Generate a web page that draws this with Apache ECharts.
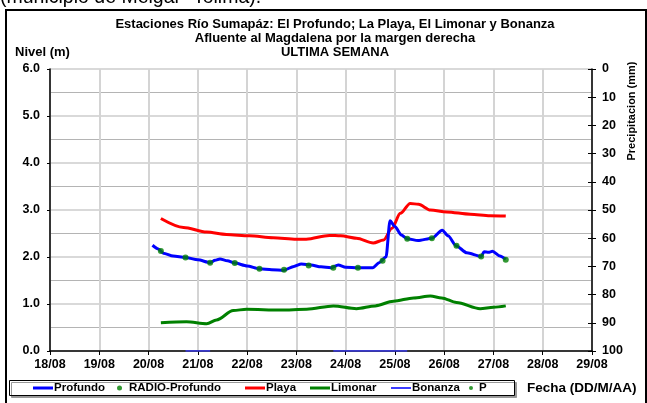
<!DOCTYPE html>
<html>
<head>
<meta charset="utf-8">
<script src="https://cdn.jsdelivr.net/npm/echarts@6/dist/echarts.min.js"></script>
<style>
  html, body { margin: 0; padding: 0; background: #fff; }
  #chart { width: 647px; height: 403px; }
</style>
</head>
<body>
<div id="chart"></div>
<script>
// datos: x = dia de agosto (fraccion = hora), y = nivel (m)
var dias = [18, 19, 20, 21, 22, 23, 24, 25, 26, 27, 28, 29];
var nivelTicks = [0, 1, 2, 3, 4, 5, 6];
var precipTicks = [0, 10, 20, 30, 40, 50, 60, 70, 80, 90, 100];

var profundo = [[20.08, 2.25], [20.2, 2.17], [20.3, 2.08], [20.5, 2.02], [20.75, 1.99], [21.0, 1.94],
  [21.25, 1.88], [21.35, 1.93], [21.45, 1.96], [21.6, 1.92], [21.75, 1.87], [22.0, 1.81],
  [22.25, 1.75], [22.5, 1.73], [22.75, 1.72], [22.95, 1.80], [23.1, 1.85], [23.3, 1.83],
  [23.5, 1.79], [23.7, 1.77], [23.85, 1.83], [24.0, 1.78], [24.25, 1.77], [24.55, 1.77],
  [24.68, 1.88], [24.82, 2.0], [24.9, 2.77], [25.0, 2.65], [25.13, 2.47], [25.25, 2.39],
  [25.47, 2.35], [25.75, 2.40], [25.96, 2.57], [26.08, 2.45], [26.24, 2.24], [26.46, 2.09],
  [26.75, 2.01], [26.81, 2.11], [26.9, 2.10], [26.98, 2.12], [27.13, 2.02], [27.25, 1.95]];
var radioProfundo = [[20.25, 2.13], [20.75, 1.99], [21.25, 1.88], [21.75, 1.87], [22.25, 1.75],
  [22.75, 1.73], [23.25, 1.82], [23.75, 1.77], [24.25, 1.77], [24.75, 1.92], [25.25, 2.39],
  [25.75, 2.40], [26.25, 2.24], [26.75, 2.01], [27.25, 1.94]];
var playa = [[20.25, 2.82], [20.71, 2.63], [21.18, 2.53], [21.58, 2.48], [22.05, 2.45], [22.53, 2.41],
  [23.0, 2.38], [23.2, 2.38], [23.67, 2.46], [23.9, 2.45], [24.22, 2.40], [24.56, 2.30],
  [24.77, 2.36], [24.94, 2.61], [25.11, 2.93], [25.31, 3.14], [25.48, 3.12], [25.72, 3.00],
  [26.05, 2.96], [26.53, 2.91], [26.93, 2.88], [27.25, 2.87]];
var limonar = [[20.25, 0.60], [20.77, 0.62], [21.18, 0.58], [21.38, 0.66], [21.72, 0.86], [21.99, 0.89],
  [22.67, 0.87], [23.21, 0.89], [23.75, 0.96], [24.22, 0.90], [24.6, 0.96], [24.97, 1.06],
  [25.38, 1.13], [25.72, 1.17], [25.95, 1.13], [26.25, 1.03], [26.73, 0.90], [27.0, 0.93], [27.25, 0.96]];
var bonanza = [[20.75, 0], [21.25, 0], [22, '-'], [23.75, 0], [25.25, 0]];
var precipitacion = [];

var FONT = 'Liberation Sans, Arial, sans-serif';
var chart = echarts.init(document.getElementById('chart'));

function legendItem(name, left, icon, w, h, pad) {
  return {
    data: [{ name: name, icon: icon }],
    left: left, top: 382, padding: 0,
    itemWidth: w, itemHeight: h, itemGap: 0,
    selectedMode: false,
    textStyle: { fontFamily: FONT, fontSize: 11.5, fontWeight: 'bold', color: '#000', padding: [0, 0, 0, pad] }
  };
}

chart.setOption({
  animation: false,
  textStyle: { fontFamily: FONT },
  graphic: [
    { type: 'text', left: 0, top: -12, style: { text: '(municipio de Melgar- Tolima).', font: '19.5px ' + FONT, fill: '#000' } },
    { type: 'rect', z: 0, shape: { x: 6, y: 10, width: 640, height: 400 }, style: { fill: '#fff', stroke: '#000', lineWidth: 2 } },
    { type: 'text', z: 10, x: 335, y: 24, style: { text: 'Estaciones Río Sumapáz: El Profundo; La Playa, El Limonar y Bonanza', font: 'bold 13px ' + FONT, fill: '#000', textAlign: 'center', textVerticalAlign: 'middle' } },
    { type: 'text', z: 10, x: 335, y: 38, style: { text: 'Afluente al Magdalena por la margen derecha', font: 'bold 13px ' + FONT, fill: '#000', textAlign: 'center', textVerticalAlign: 'middle' } },
    { type: 'text', z: 10, x: 335, y: 52, style: { text: 'ULTIMA SEMANA', font: 'bold 13px ' + FONT, fill: '#000', textAlign: 'center', textVerticalAlign: 'middle' } },
    { type: 'text', z: 10, x: 15, y: 52, style: { text: 'Nivel (m)', font: 'bold 13px ' + FONT, fill: '#000', textAlign: 'left', textVerticalAlign: 'middle' } },
    { type: 'text', z: 10, x: 632, y: 111, rotation: Math.PI / 2, style: { text: 'Precipitacion (mm)', font: 'bold 11px ' + FONT, fill: '#000', textAlign: 'center', textVerticalAlign: 'middle' } },
    { type: 'text', z: 10, x: 527, y: 388, style: { text: 'Fecha (DD/M/AA)', font: 'bold 13.5px ' + FONT, fill: '#000', textAlign: 'left', textVerticalAlign: 'middle' } },
    { type: 'rect', z: 1, shape: { x: 9.5, y: 380.5, width: 505, height: 15 }, style: { fill: '#fff', stroke: '#000', lineWidth: 1, shadowColor: '#999', shadowOffsetX: 2, shadowOffsetY: 2, shadowBlur: 0 } }
  ],
  legend: [
    legendItem('Profundo', 33, 'rect', 20, 3, -4),
    legendItem('RADIO-Profundo', 117, 'circle', 5, 5, 2),
    legendItem('Playa', 245, 'rect', 20, 3, -4),
    legendItem('Limonar', 310, 'rect', 20, 3, -4),
    legendItem('Bonanza', 391, 'rect', 20, 2, -4),
    legendItem('P', 469, 'circle', 4, 4, 1)
  ],
  grid: { left: 50, right: 55, top: 69, bottom: 52 },
  xAxis: {
    type: 'value', min: dias[0], max: dias[dias.length - 1], interval: 1,
    axisLine: { lineStyle: { color: '#000', width: 1.5 } },
    axisTick: { show: true, length: 4, lineStyle: { color: '#000' } },
    axisLabel: {
      margin: 7, color: '#000', fontSize: 12.5, fontWeight: 'bold', fontFamily: FONT,
      formatter: function (v) { return v + '/08'; }
    },
    splitLine: { show: true, lineStyle: { color: '#d4d4d4', width: 2 } }
  },
  yAxis: [{
    type: 'value', position: 'left', min: nivelTicks[0], max: nivelTicks[nivelTicks.length - 1], interval: 1,
    axisLine: { show: true, lineStyle: { color: '#000', width: 1.5 } },
    axisTick: { show: true, length: 3, lineStyle: { color: '#000' } },
    axisLabel: {
      margin: 10, color: '#000', fontSize: 12.5, fontWeight: 'bold', fontFamily: FONT,
      formatter: function (v) { return v.toFixed(1); }
    },
    splitLine: { show: true, lineStyle: { color: '#d9d9d9', width: 2 } },
    minorTick: { show: false, splitNumber: 2 },
    minorSplitLine: { show: true, lineStyle: { color: '#b4b4b4', width: 1 } }
  }, {
    type: 'value', position: 'right', inverse: true,
    min: precipTicks[0], max: precipTicks[precipTicks.length - 1], interval: 10,
    axisLine: { show: true, lineStyle: { color: '#000', width: 1.5 } },
    axisTick: { show: true, length: 4, lineStyle: { color: '#000' } },
    axisLabel: { margin: 10, color: '#000', fontSize: 12.5, fontWeight: 'bold', fontFamily: FONT },
    splitLine: { show: false }
  }, {
    type: 'value', position: 'right', inverse: true,
    min: precipTicks[0], max: precipTicks[precipTicks.length - 1], interval: 10,
    axisLine: { show: false },
    axisTick: { show: true, inside: true, length: 4, lineStyle: { color: '#000' } },
    axisLabel: { show: false },
    splitLine: { show: false }
  }],
  series: [
    { name: 'Profundo', type: 'line', data: profundo, yAxisIndex: 0, showSymbol: false, smooth: 0.25, smoothMonotone: 'x',
      lineStyle: { color: '#0000ff', width: 3 }, itemStyle: { color: '#0000ff' }, z: 3 },
    { name: 'RADIO-Profundo', type: 'scatter', data: radioProfundo, yAxisIndex: 0, symbolSize: 6,
      itemStyle: { color: '#008000' }, z: 5 },
    { name: 'Playa', type: 'line', data: playa, yAxisIndex: 0, showSymbol: false, smooth: 0.3, smoothMonotone: 'x',
      lineStyle: { color: '#ff0000', width: 3 }, itemStyle: { color: '#ff0000' }, z: 2 },
    { name: 'Limonar', type: 'line', data: limonar, yAxisIndex: 0, showSymbol: false, smooth: 0.3, smoothMonotone: 'x',
      lineStyle: { color: '#008000', width: 3 }, itemStyle: { color: '#008000' }, z: 2 },
    { name: 'Bonanza', type: 'line', data: bonanza, yAxisIndex: 0, showSymbol: false, connectNulls: false,
      lineStyle: { color: '#3c3cff', width: 1.5 }, itemStyle: { color: '#3c3cff' }, z: 4 },
    { name: 'P', type: 'scatter', data: precipitacion, yAxisIndex: 1, symbolSize: 4,
      itemStyle: { color: '#008000' } }
  ]
});
</script>
</body>
</html>
